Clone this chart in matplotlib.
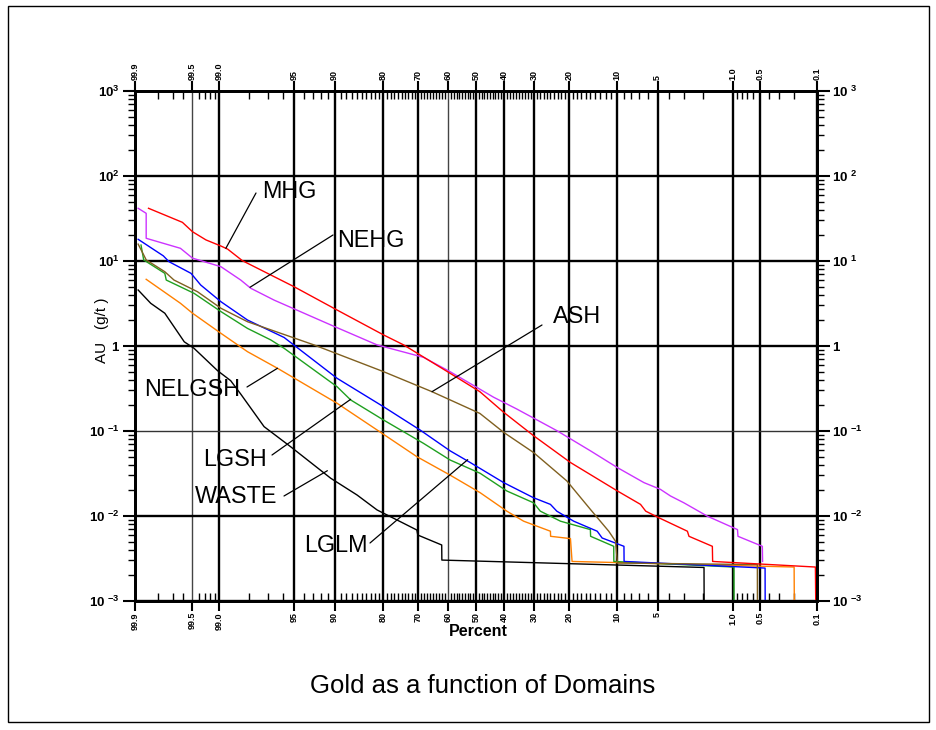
import math
import numpy as np
import matplotlib
matplotlib.use("Agg")
import matplotlib.pyplot as plt
from matplotlib.patches import Rectangle
from matplotlib.ticker import LogLocator, NullFormatter

plt.rcParams['font.family'] = ['Liberation Sans', 'DejaVu Sans']
plt.rcParams['mathtext.fontset'] = 'custom'
plt.rcParams['mathtext.rm'] = 'Liberation Sans'
plt.rcParams['mathtext.bf'] = 'Liberation Sans:bold'

W, H = 936, 730

# percent of samples above the grade, and the grade (g/t) for each domain
mhg_pct = [99.85, 99.61, 99.49, 99.28, 98.96, 98.78, 98.29, 95.05, 89.6, 79.9, 74.4, 59.3, 48.6,
           40.1, 30.1, 19.6, 10.0, 6.8, 6.2, 4.87, 2.77, 2.68, 1.61, 1.60, 0.105, 0.104]
mhg_au = [41.7, 28.5, 22.1, 17.7, 15.0, 13.8, 10.1, 4.99, 2.65, 1.35, 1.03, 0.478, 0.290,
          0.166, 0.0881, 0.0426, 0.0197, 0.0137, 0.0114, 0.00953, 0.00662, 0.00577, 0.0044, 0.00292, 0.00251, 0.001]

nehg_pct = [99.89, 99.86, 99.86, 99.63, 99.49, 98.96, 98.35, 97.94, 96.64, 90.6, 81.5, 68.3, 59.3,
            43.7, 35.6, 23.2, 15.0, 10.0, 6.4, 4.74, 3.9, 2.98, 1.80, 0.89, 0.88, 0.473, 0.47]
nehg_au = [41.7, 36.4, 18.5, 14.1, 10.8, 8.57, 5.97, 4.78, 3.47, 1.77, 1.03, 0.736, 0.499,
           0.250, 0.1815, 0.101, 0.0585, 0.0371, 0.0247, 0.0206, 0.0172, 0.0143, 0.00995, 0.00692, 0.00577, 0.0044, 0.00292]

ash_pct = [99.89, 99.87, 99.86, 99.76, 99.69, 99.42, 98.96, 98.08, 92.9, 79.9, 65.5, 48.6, 40.1,
           30.1, 20.5, 15.0, 13.0, 11.45, 10.3, 10.0, 0.539, 0.538]
ash_au = [15.8, 11.8, 10.3, 7.48, 5.97, 4.35, 2.78, 1.93, 1.03, 0.499, 0.290, 0.161, 0.0964,
          0.0558, 0.0258, 0.01197, 0.00869, 0.00662, 0.00504, 0.0028, 0.00268, 0.001]

lglm_pct = [99.89, 99.77, 99.73, 99.51, 99.37, 98.96, 98.08, 95.9, 89.6, 79.9, 69.4, 59.3, 52.1,
            40.1, 30.1, 25.0, 23.2, 18.8, 13.6, 12.65, 9.0, 8.98, 0.44, 0.439]
lglm_au = [18.0, 11.5, 9.82, 7.16, 5.22, 3.32, 2.02, 1.26, 0.417, 0.193, 0.1028, 0.0585, 0.0426,
           0.0247, 0.0164, 0.0137, 0.0114, 0.00869, 0.00662, 0.00551, 0.0044, 0.00292, 0.00244, 0.001]

lgsh_pct = [99.88, 99.87, 99.76, 99.75, 99.47, 98.96, 98.08, 96.86, 95.9, 89.6, 87.2, 79.9, 68.3,
            59.3, 48.5, 39.0, 30.1, 28.0, 22.2, 15.0, 14.95, 10.6, 10.58, 0.97, 0.968]
lgsh_au = [15.4, 10.3, 7.16, 5.97, 4.17, 2.54, 1.61, 1.18, 0.94, 0.332, 0.232, 0.1347, 0.0716,
           0.0456, 0.0318, 0.0197, 0.0143, 0.0114, 0.00869, 0.00692, 0.00577, 0.0044, 0.00292, 0.00251, 0.001]

nelgsh_pct = [99.86, 99.63, 99.49, 98.96, 98.08, 96.4, 89.6, 81.5, 70.4, 59.3, 48.5, 39.0, 33.3,
              25.0, 24.95, 19.6, 19.2, 0.197, 0.196]
nelgsh_au = [6.09, 3.18, 2.43, 1.41, 0.857, 0.547, 0.212, 0.1028, 0.0499, 0.0303, 0.0188, 0.0114, 0.00869,
             0.00662, 0.00577, 0.00542, 0.00292, 0.00251, 0.001]

waste_pct = [99.89, 99.84, 99.76, 99.59, 99.47, 99.04, 98.69, 98.35, 97.26, 95.35, 90.6, 85.95, 81.5,
             74.4, 70.4, 70.1, 62.2, 62.15, 1.94, 1.935]
waste_au = [4.56, 3.18, 2.43, 1.12, 0.94, 0.512, 0.391, 0.272, 0.1125, 0.0653, 0.0278, 0.01767, 0.01178,
            0.0082, 0.00684, 0.00597, 0.00456, 0.00303, 0.00248, 0.001]

pct_ticks = [99.9, 99.5, 99.0, 95, 90, 80, 70, 60, 50, 40, 30, 20, 10, 5, 1.0, 0.5, 0.1]
pct_labels = ['99.9', '99.5', '99.0', '95', '90', '80', '70', '60', '50', '40', '30', '20',
              '10', '5', '1.0', '0.5', '0.1']
pct_minor = ([99.8, 99.7, 99.6, 99.4, 99.3, 99.2, 99.1, 98, 97, 96, 94, 93, 92, 91]
             + [p for p in range(89, 10, -1) if p % 10 != 0]
             + [9, 8, 7, 6, 4, 3, 2, 0.9, 0.8, 0.7, 0.6, 0.4, 0.3, 0.2])

au_ticks = [1e-3, 1e-2, 1e-1, 1, 1e1, 1e2, 1e3]
au_labels_left = [r'$\mathbf{10}$ $^{\mathbf{-3}}$', r'$\mathbf{10}$ $^{\mathbf{-2}}$',
                  r'$\mathbf{10}$ $^{\mathbf{-1}}$', r'$\mathbf{1}$',
                  r'$\mathbf{10^{1}}$', r'$\mathbf{10^{2}}$', r'$\mathbf{10^{3}}$']
au_labels_right = [r'$\mathbf{10}$ $^{\mathbf{-3}}$', r'$\mathbf{10}$ $^{\mathbf{-2}}$',
                   r'$\mathbf{10}$ $^{\mathbf{-1}}$', r'$\mathbf{1}$',
                   r'$\mathbf{10}$ $^{\mathbf{1}}$', r'$\mathbf{10}$ $^{\mathbf{2}}$',
                   r'$\mathbf{10}$ $^{\mathbf{3}}$']

# domain, colour, curve, leader end (pct, au), leader start and text baseline (image px)
series = [
    ('WASTE', 'black', waste_pct, waste_au, (91.1, 0.0341), (284, 496), (195, 503)),
    ('NELGSH', '#ff8000', nelgsh_pct, nelgsh_au, (96.4, 0.547), (247, 387), (144, 396)),
    ('LGSH', '#1fa01f', lgsh_pct, lgsh_au, (87.2, 0.236), (272, 455), (203, 466)),
    ('LGLM', '#0000ff', lglm_pct, lglm_au, (53.0, 0.046), (370, 543), (304, 552)),
    ('ASH', '#806020', ash_pct, ash_au, (65.5, 0.29), (542, 325), (553, 323)),
    ('NEHG', '#cc33ff', nehg_pct, nehg_au, (97.97, 4.91), (333, 235), (337, 247)),
    ('MHG', '#ff0000', mhg_pct, mhg_au, (98.83, 14.1), (256, 193), (262, 198)),
]

_erf = np.vectorize(math.erf, otypes=[float])


def _cdf(z):
    return 0.5 * (1.0 + _erf(np.asarray(z, float) / math.sqrt(2.0)))


def pct_to_z(p):
    # probit of a percentage, solved by bisection on the normal cdf
    q = np.clip(np.asarray(p, float) / 100.0, 1e-9, 1 - 1e-9)
    lo = np.full_like(q, -8.0)
    hi = np.full_like(q, 8.0)
    for _ in range(48):
        mid = 0.5 * (lo + hi)
        below = _cdf(mid) < q
        lo = np.where(below, mid, lo)
        hi = np.where(below, hi, mid)
    return 0.5 * (lo + hi)


def z_to_pct(z):
    return 100.0 * _cdf(z)


def fig_xy(x, y):
    return x / W, 1 - y / H


fig = plt.figure(figsize=(W / 100, H / 100), dpi=100)
ax = fig.add_axes([135 / W, 1 - 601 / H, 682 / W, 510 / H])

ax.set_xscale('function', functions=(pct_to_z, z_to_pct))
ax.set_yscale('log')
ax.set_xlim(99.9, 0.1)
ax.set_ylim(1e-3, 1e3)

ax.set_xticks(pct_ticks, labels=pct_labels)
ax.set_xticks(pct_minor, minor=True)
ax.set_yticks(au_ticks, labels=au_labels_left)
ax.yaxis.set_minor_locator(LogLocator(base=10, subs=np.arange(2, 10)))
ax.yaxis.set_minor_formatter(NullFormatter())

ax.tick_params(axis='x', which='major', top=True, labeltop=True, direction='out', length=7,
               width=1.5, labelsize=6.5, labelrotation=90, pad=1)
ax.tick_params(axis='x', which='minor', top=True, bottom=True, direction='in', length=6, width=1.0)
ax.tick_params(axis='y', which='major', direction='out', length=9, width=1.5, labelsize=9.5, pad=2)
ax.tick_params(axis='y', which='minor', direction='out', length=5, width=1.0)
for lbl in ax.get_xticklabels():
    lbl.set_fontweight('bold')

ax.grid(True, which='major', color='black', linewidth=1.7)
for gl, p in zip(ax.get_xgridlines(), pct_ticks):
    if p in (99.5, 60):
        gl.set_linewidth(1.0)
        gl.set_color('#444444')
for gl, v in zip(ax.get_ygridlines(), au_ticks):
    if v == 1e-1:
        gl.set_linewidth(1.0)
        gl.set_color('#333333')

for sp in ax.spines.values():
    sp.set_linewidth(2)

for name, color, pct, au, tip, start, txt in series:
    ax.plot(pct, au, color=color, linewidth=1.0)

for name, color, pct, au, tip, start, txt in series:
    ax.annotate('', xy=tip, xycoords='data', xytext=fig_xy(*start), textcoords='figure fraction',
                arrowprops=dict(arrowstyle='-', color='black', linewidth=0.9, shrinkA=0, shrinkB=0))
    fig.text(*fig_xy(*txt), name, fontsize=16.8, ha='left', va='baseline')

ax.set_xlabel('Percent', fontsize=11.5, fontweight='bold')
ax.xaxis.set_label_coords(0.503, -0.046)
ax.set_ylabel('AU   (g/t )', fontsize=11)
ax.yaxis.set_label_coords(-0.038, 0.53)

# right-hand axis with its own label style
ax2 = ax.twinx()
ax2.set_yscale('log')
ax2.set_ylim(1e-3, 1e3)
ax2.set_yticks(au_ticks, labels=au_labels_right)
ax2.yaxis.set_minor_locator(LogLocator(base=10, subs=np.arange(2, 10)))
ax2.yaxis.set_minor_formatter(NullFormatter())
ax2.tick_params(axis='y', which='major', direction='out', length=9, width=1.5, labelsize=9.5, pad=2)
ax2.tick_params(axis='y', which='minor', direction='out', length=5, width=1.0)
for sp in ax2.spines.values():
    sp.set_linewidth(2)

fig.text(*fig_xy(483, 693), 'Gold as a function of Domains', fontsize=18.5, ha='center', va='baseline')

fig.add_artist(Rectangle(fig_xy(8, 722), 921 / W, 716 / H, transform=fig.transFigure,
                         fill=False, edgecolor='black', linewidth=1.0))

fig.savefig('out.png', dpi=100)
